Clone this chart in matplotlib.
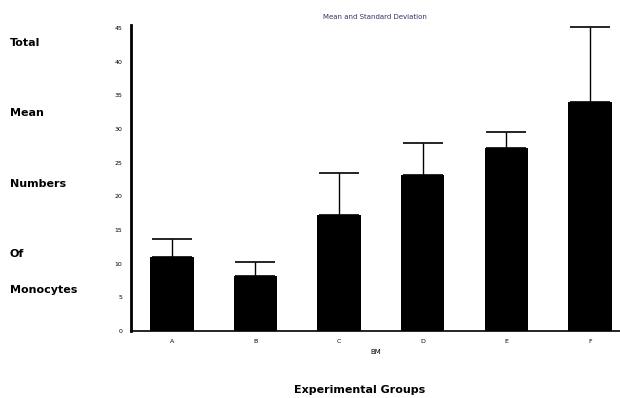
import matplotlib.pyplot as plt

groups = ['A', 'B', 'C', 'D', 'E', 'F']
means = [11.0, 8.2, 17.2, 23.2, 27.2, 34.0]
sd = [2.7, 2.0, 6.3, 4.7, 2.4, 11.1]
yticks = [0, 5, 10, 15, 20, 25, 30, 35, 40, 45]
ylabel_words = ['Total', 'Mean', 'Numbers', 'Of', 'Monocytes']
ylabel_y = [43, 113, 184, 254, 290]

fig = plt.figure(figsize=(6.2, 3.98), dpi=100)
ax = fig.add_axes([0.211, 0.168, 0.789, 0.770])

x = range(len(groups))
ax.bar(x, means, width=0.52, color='black')
ax.errorbar(x, means, yerr=[[0] * len(sd), sd], fmt='none', ecolor='black',
            elinewidth=1, capsize=14.5, capthick=1.2)

ax.set_xlim(-0.49, 5.36)
ax.set_ylim(0, 45.5)
ax.set_xticks(list(x))
ax.set_xticklabels(groups)
ax.set_yticks(yticks)
ax.tick_params(length=0, labelsize=4.5, pad=6)
for s in ['top', 'right']:
    ax.spines[s].set_visible(False)
ax.spines['left'].set_linewidth(2)
ax.spines['bottom'].set_linewidth(1.2)

ax.set_xlabel('BM', fontsize=5, labelpad=3)
ax.set_title('Mean and Standard Deviation', fontsize=5, color='#333366', pad=4)

for word, py in zip(ylabel_words, ylabel_y):
    fig.text(10 / 620, 1 - py / 398, word, fontsize=8, fontweight='bold', va='center', ha='left')

fig.text(360 / 620, 1 - 390 / 398, 'Experimental Groups', fontsize=8, fontweight='bold',
         ha='center', va='center')

fig.savefig('out.png', dpi=100)
